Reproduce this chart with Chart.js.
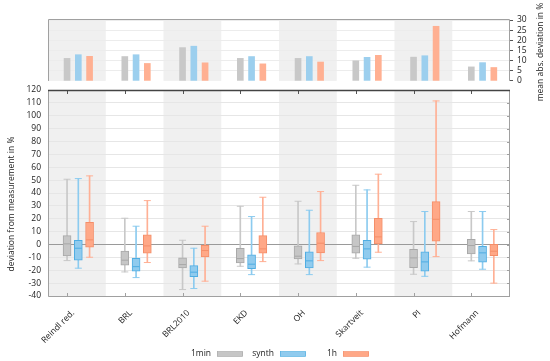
<!DOCTYPE html>
<html>
<head>
<meta charset="utf-8">
<script src="https://cdn.jsdelivr.net/npm/chart.js@4.4.1/dist/chart.umd.min.js"></script>
<style>
    html, body { margin: 0; padding: 0; background: #fff; }
    #wrap { position: relative; width: 550px; height: 361px; }
    #wrap canvas { position: absolute; left: 0; top: 0; }
</style>
</head>
<body>
<div id="wrap">
    <canvas id="boxChart" width="550" height="361"></canvas>
    <canvas id="barChart" width="550" height="90"></canvas>
</div>
<script>
const models = ['Reindl red.', 'BRL', 'BRL2010', 'EKD', 'OH', 'Skartveit', 'PI', 'Hofmann'];
const seriesNames = ['1min', 'synth', '1h'];

// mean abs. deviation in % (top panel)
const mad1min = [11.1, 12.0, 16.4, 11.1, 11.1, 9.9, 11.7, 6.9];
const madSynth = [12.9, 12.9, 17.1, 12.0, 12.0, 11.6, 12.4, 9.0];
const mad1h = [12.1, 8.6, 8.9, 8.4, 9.3, 12.6, 26.9, 6.6];

// deviation from measurement in %: [whisker low, q1, median, q3, whisker high]
const box1min = [
    [-12.5, -8.9, 0.5, 6.9, 50.7],
    [-21.3, -16.1, -12.2, -5.2, 20.4],
    [-35.0, -18.2, -15.6, -10.4, 3.3],
    [-16.9, -14.3, -10.9, -2.9, 29.7],
    [-15.1, -11.2, -9.1, -1.1, 33.6],
    [-10.7, -6.8, -1.5, 7.5, 46.0],
    [-23.1, -17.9, -10.4, -3.7, 17.8],
    [-12.7, -7.3, -0.8, 4.1, 25.6]
];
const boxSynth = [
    [-18.4, -12.2, -2.9, 3.3, 51.2],
    [-25.7, -20.8, -17.2, -10.7, 14.2],
    [-34.2, -24.9, -21.5, -16.4, -2.9],
    [-23.4, -18.7, -15.3, -8.1, 21.7],
    [-23.4, -18.2, -12.7, -5.7, 26.6],
    [-17.6, -11.4, -3.4, 3.3, 42.4],
    [-24.7, -20.8, -13.5, -5.7, 25.6],
    [-19.2, -13.8, -6.5, -1.4, 25.6]
];
const box1h = [
    [-9.9, -2.1, 3.6, 17.3, 53.3],
    [-14.0, -6.8, -1.1, 7.5, 34.1],
    [-28.5, -9.6, -4.7, -0.6, 14.2],
    [-13.3, -6.8, -3.4, 6.9, 36.7],
    [-12.5, -6.5, 1.0, 9.3, 41.1],
    [-6.0, 0.0, 5.9, 20.4, 54.6],
    [-9.4, 2.5, 19.6, 33.3, 111.5],
    [-30.0, -8.6, -5.2, 0.2, 11.6]
];

// layout / style
const seriesOffset = [0.33, 0.525, 0.72];
const colors = [
    { fill: '#c6c6c6', line: '#a8a8a8', whisker: '#c8c8c8', bar: '#c8c8c8' },
    { fill: '#90cbee', line: '#4fade2', whisker: '#8ccbef', bar: '#9ccfee' },
    { fill: '#ffa887', line: '#f48e69', whisker: '#ffb095', bar: '#ffb092' }
];

Chart.defaults.font.family = "'Open Sans', 'DejaVu Sans', sans-serif";
Chart.defaults.font.size = 8.5;
Chart.defaults.color = '#222';

const bandPlugin = {
    id: 'bands',
    beforeDraw(chart) {
        const { ctx, chartArea, scales } = chart;
        ctx.save();
        ctx.fillStyle = '#f0f0f0';
        for (let i = 0; i < models.length; i += 2) {
            const x0 = scales.x.getPixelForValue(i);
            const x1 = scales.x.getPixelForValue(i + 1);
            ctx.fillRect(x0, chartArea.top, x1 - x0, chartArea.bottom - chartArea.top);
        }
        ctx.restore();
    }
};

function xTicks(scale) {
    scale.ticks = models.map((m, i) => ({ value: i + seriesOffset[0] }));
}

// ---------- bottom panel: box plots ----------
const boxDatasets = [];
[box1min, boxSynth, box1h].forEach((rows, s) => {
    const c = colors[s];
    const xs = rows.map((r, i) => i + seriesOffset[s]);
    boxDatasets.push({
        type: 'bar', label: seriesNames[s] + ' whisker',
        data: rows.map((r, i) => ({ x: xs[i], y: [r[0], r[4]] })),
        backgroundColor: c.whisker, borderWidth: 0,
        barThickness: 1, grouped: false, order: 3
    });
    boxDatasets.push({
        type: 'bar', label: seriesNames[s],
        data: rows.map((r, i) => ({ x: xs[i], y: [r[1], r[3]] })),
        backgroundColor: c.fill, borderColor: c.line, borderWidth: 1, borderSkipped: false,
        barThickness: 8, grouped: false, order: 2
    });
    boxDatasets.push({
        type: 'scatter', label: seriesNames[s] + ' caps',
        data: rows.flatMap((r, i) => [{ x: xs[i], y: r[0] }, { x: xs[i], y: r[4] }]),
        pointStyle: 'line', pointRadius: 3.5, pointBorderColor: c.whisker, pointBorderWidth: 1,
        order: 1
    });
    boxDatasets.push({
        type: 'scatter', label: seriesNames[s] + ' median',
        data: rows.map((r, i) => ({ x: xs[i], y: r[2] })),
        pointStyle: 'line', pointRadius: 3.5, pointBorderColor: c.line, pointBorderWidth: 1,
        order: 0
    });
});

const framePlugin = {
    id: 'frame',
    afterDraw(chart) {
        const { ctx, chartArea: a, scales } = chart;
        ctx.save();
        ctx.lineWidth = 1;
        ctx.strokeStyle = '#a0a0a0';
        ctx.beginPath();
        ctx.moveTo(a.left + 0.5, a.top);
        ctx.lineTo(a.left + 0.5, a.bottom + 0.5);
        ctx.lineTo(a.right - 0.5, a.bottom + 0.5);
        ctx.lineTo(a.right - 0.5, a.top);
        ctx.stroke();
        // tick marks
        ctx.beginPath();
        scales.x.ticks.forEach(t => {
            const px = Math.round(scales.x.getPixelForValue(t.value)) + 0.5;
            ctx.moveTo(px, a.bottom);
            ctx.lineTo(px, a.bottom - 3);
        });
        scales.y.ticks.forEach(t => {
            const py = Math.round(scales.y.getPixelForValue(t.value)) + 0.5;
            ctx.moveTo(a.right, py);
            ctx.lineTo(a.right - 3, py);
        });
        ctx.stroke();
        ctx.strokeStyle = '#555';
        ctx.beginPath();
        scales.x.ticks.forEach(t => {
            const px = Math.round(scales.x.getPixelForValue(t.value)) + 0.5;
            ctx.moveTo(px, a.top);
            ctx.lineTo(px, a.top + 4);
        });
        ctx.stroke();
        ctx.strokeStyle = '#444';
        ctx.lineWidth = 1.3;
        ctx.beginPath();
        ctx.moveTo(a.left, a.top + 0.5);
        ctx.lineTo(a.right, a.top + 0.5);
        ctx.stroke();

        // axis titles
        ctx.fillStyle = '#222';
        ctx.font = "8.5px 'Open Sans', 'DejaVu Sans', sans-serif";
        ctx.textAlign = 'center';
        ctx.textBaseline = 'middle';
        ctx.save();
        ctx.translate(12, 204);
        ctx.rotate(-Math.PI / 2);
        ctx.fillText('deviation from measurement in %', 0, 0);
        ctx.restore();
        ctx.save();
        ctx.translate(541, 52);
        ctx.rotate(-Math.PI / 2);
        ctx.fillText('mean abs. deviation in %', 0, 0);
        ctx.restore();

        // legend: label left of swatch
        const ly = 354;
        seriesNames.forEach((name, s) => {
            const sx = 217 + s * 63;
            ctx.textAlign = 'right';
            ctx.fillStyle = '#222';
            ctx.fillText(name, sx - 6, ly);
            ctx.fillStyle = colors[s].fill;
            ctx.fillRect(sx, ly - 2.5, 26, 5);
            ctx.strokeStyle = colors[s].line;
            ctx.lineWidth = 0.6;
            ctx.strokeRect(sx + 0.5, ly - 2.5, 25, 5);
        });
        ctx.restore();
    }
};

new Chart(document.getElementById('boxChart'), {
    type: 'bar',
    data: { datasets: boxDatasets },
    options: {
        responsive: false,
        animation: false,
        layout: { padding: { left: 0, right: 40, top: 90, bottom: 0 } },
        plugins: { legend: { display: false }, tooltip: { enabled: false } },
        scales: {
            x: {
                type: 'linear', min: 0, max: models.length, offset: false,
                afterBuildTicks: xTicks,
                afterFit(scale) { scale.height = 65; scale.paddingLeft = 0; scale.paddingRight = 0; },
                grid: { display: false },
                border: { display: false },
                ticks: {
                    autoSkip: false, minRotation: 45, maxRotation: 45, padding: 4, labelOffset: 6,
                    callback: (v, i) => models[i]
                }
            },
            y: {
                min: -40, max: 120,
                afterFit(scale) { scale.width = 48; },
                ticks: { stepSize: 10, padding: 7, autoSkip: false },
                grid: {
                    drawTicks: false,
                    color: ctx => ctx.tick.value === 0 ? '#9a9a9a' : '#e6e6e6'
                },
                border: { display: false }
            }
        }
    },
    plugins: [bandPlugin, framePlugin]
});

// ---------- top panel: mean abs. deviation ----------
const topFramePlugin = {
    id: 'topFrame',
    afterDraw(chart) {
        const { ctx, chartArea: a } = chart;
        ctx.save();
        ctx.strokeStyle = '#a0a0a0';
        ctx.lineWidth = 1;
        ctx.beginPath();
        ctx.moveTo(a.left + 0.5, a.bottom);
        ctx.lineTo(a.left + 0.5, a.top - 0.5);
        ctx.lineTo(a.right - 0.5, a.top - 0.5);
        ctx.lineTo(a.right - 0.5, a.bottom);
        ctx.stroke();
        ctx.restore();
    }
};

new Chart(document.getElementById('barChart'), {
    type: 'bar',
    data: {
        datasets: [mad1min, madSynth, mad1h].map((vals, s) => ({
            label: seriesNames[s],
            data: vals.map((v, i) => ({ x: i + seriesOffset[s], y: v })),
            backgroundColor: colors[s].bar,
            barThickness: 6,
            grouped: false
        }))
    },
    options: {
        responsive: false,
        animation: false,
        layout: { padding: { left: 48, right: 0, top: 20, bottom: 0 } },
        plugins: { legend: { display: false }, tooltip: { enabled: false } },
        scales: {
            x: { type: 'linear', min: 0, max: models.length, offset: false, display: false },
            y: {
                position: 'right', min: 0, max: 30,
                afterFit(scale) { scale.width = 40; },
                ticks: { stepSize: 5, padding: 4, autoSkip: false },
                grid: {
                    tickLength: 3,
                    tickColor: '#555',
                    color: ctx => ctx.tick.value === 0 ? 'rgba(0,0,0,0)' : '#ececec'
                },
                border: { display: false }
            }
        }
    },
    plugins: [bandPlugin, topFramePlugin]
});
</script>
</body>
</html>
